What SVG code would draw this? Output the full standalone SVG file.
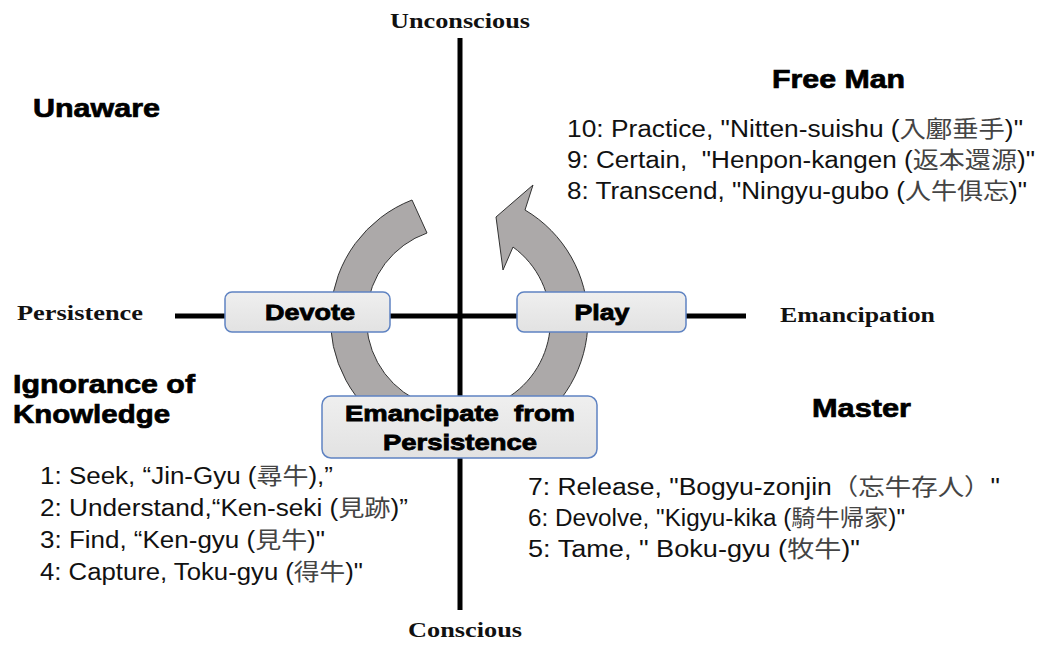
<svg xmlns="http://www.w3.org/2000/svg" width="1049" height="645" viewBox="0 0 1049 645">
<style>
.axis{stroke:#000;stroke-width:5;fill:none}
.serif{font-family:"Liberation Serif","Times New Roman",serif;font-weight:bold;font-size:21px;fill:#111}
.head{font-family:"Liberation Sans",Arial,sans-serif;font-weight:900;font-size:26px;fill:#000;stroke:#000;stroke-width:0.7}
.list{font-family:"Liberation Sans",Arial,"Noto Sans CJK JP",sans-serif;font-size:23px;fill:#111}
.cjk{fill:#444}
.box{fill:url(#boxg);stroke:#5f83c2;stroke-width:1.5}
.btxt{font-family:"Liberation Sans",Arial,sans-serif;font-weight:bold;font-size:22px;fill:#000;stroke:#000;stroke-width:0.8;text-anchor:middle}
.arc{fill:#aca9a9;stroke:#333;stroke-width:1}
</style>
<defs>
<linearGradient id="boxg" x1="0" y1="0" x2="0" y2="1">
<stop offset="0" stop-color="#efefef"/>
<stop offset="1" stop-color="#e2e2e2"/>
</linearGradient>
</defs>
<rect width="1049" height="645" fill="#fff"/>
<g id="connectors">
<path id="arc-left" class="arc" d="M412,200 A128,128 0 0 0 396,431 L414.5,399 A91,91 0 0 1 427,233 Z"/>
<path id="arc-right" class="arc" d="M496,217 L533,185 L525,210 A128,128 0 0 1 524,431 L505.5,399 A91,91 0 0 0 513,247 L503,270 Z"/>
<line class="axis" x1="460" y1="38" x2="460" y2="610"/>
<line class="axis" x1="175" y1="316" x2="746" y2="316"/>
</g>
<g id="axis-labels">
<text class="serif" x="460" y="28" text-anchor="middle" textLength="140" lengthAdjust="spacingAndGlyphs">Unconscious</text>
<text class="serif" x="465" y="637" text-anchor="middle" textLength="114" lengthAdjust="spacingAndGlyphs">Conscious</text>
<text class="serif" x="17" y="320" textLength="126" lengthAdjust="spacingAndGlyphs">Persistence</text>
<text class="serif" x="780" y="322" textLength="155" lengthAdjust="spacingAndGlyphs">Emancipation</text>
</g>
<g id="quadrant-labels">
<text class="head" x="33" y="117" textLength="127" lengthAdjust="spacingAndGlyphs">Unaware</text>
<text class="head" x="772" y="88" textLength="133" lengthAdjust="spacingAndGlyphs">Free Man</text>
<text class="head" x="13" y="393" textLength="182" lengthAdjust="spacingAndGlyphs">Ignorance of</text>
<text class="head" x="13" y="423" textLength="157" lengthAdjust="spacingAndGlyphs">Knowledge</text>
<text class="head" x="812" y="417" textLength="99" lengthAdjust="spacingAndGlyphs">Master</text>
</g>
<g id="node-devote">
<rect class="box" x="225" y="292" width="165" height="40" rx="7"/>
<text class="btxt" x="310" y="320" textLength="90" lengthAdjust="spacingAndGlyphs">Devote</text>
</g>
<g id="node-play">
<rect class="box" x="517" y="292" width="169" height="40" rx="7"/>
<text class="btxt" x="602" y="320" textLength="55" lengthAdjust="spacingAndGlyphs">Play</text>
</g>
<g id="node-emancipate">
<rect class="box" x="322" y="396" width="275" height="62" rx="9"/>
<text class="btxt" x="460" y="421" textLength="230" lengthAdjust="spacingAndGlyphs" xml:space="preserve">Emancipate  from</text>
<text class="btxt" x="460" y="450" textLength="154" lengthAdjust="spacingAndGlyphs">Persistence</text>
</g>
<g id="list-free">
<text class="list" x="567" y="137" textLength="456" lengthAdjust="spacingAndGlyphs">10: Practice, "Nitten-suishu (<tspan class="cjk">入鄽垂手</tspan>)"</text>
<text class="list" x="567" y="168" textLength="468" lengthAdjust="spacingAndGlyphs" xml:space="preserve">9: Certain,  "Henpon-kangen (<tspan class="cjk">返本還源</tspan>)"</text>
<text class="list" x="567" y="199" textLength="460" lengthAdjust="spacingAndGlyphs">8: Transcend, "Ningyu-gubo (<tspan class="cjk">人牛俱忘</tspan>)"</text>
</g>
<g id="list-ignorance">
<text class="list" x="40" y="484" textLength="293" lengthAdjust="spacingAndGlyphs">1: Seek, “Jin-Gyu (<tspan class="cjk">尋牛</tspan>),”</text>
<text class="list" x="40" y="516" textLength="368" lengthAdjust="spacingAndGlyphs">2: Understand,“Ken-seki (<tspan class="cjk">見跡</tspan>)”</text>
<text class="list" x="40" y="548" textLength="285" lengthAdjust="spacingAndGlyphs">3: Find, “Ken-gyu (<tspan class="cjk">見牛</tspan>)"</text>
<text class="list" x="40" y="580" textLength="323" lengthAdjust="spacingAndGlyphs">4: Capture, Toku-gyu (<tspan class="cjk">得牛</tspan>)"</text>
</g>
<g id="list-master">
<text class="list" x="528" y="495" textLength="472" lengthAdjust="spacingAndGlyphs">7: Release, "Bogyu-zonjin<tspan class="cjk">（忘牛存人）</tspan>"</text>
<text class="list" x="528" y="526" textLength="377" lengthAdjust="spacingAndGlyphs">6: Devolve, "Kigyu-kika (<tspan class="cjk">騎牛帰家</tspan>)"</text>
<text class="list" x="528" y="557" textLength="332" lengthAdjust="spacingAndGlyphs" xml:space="preserve">5: Tame, " Boku-gyu (<tspan class="cjk">牧牛</tspan>)"</text>
</g>
</svg>
